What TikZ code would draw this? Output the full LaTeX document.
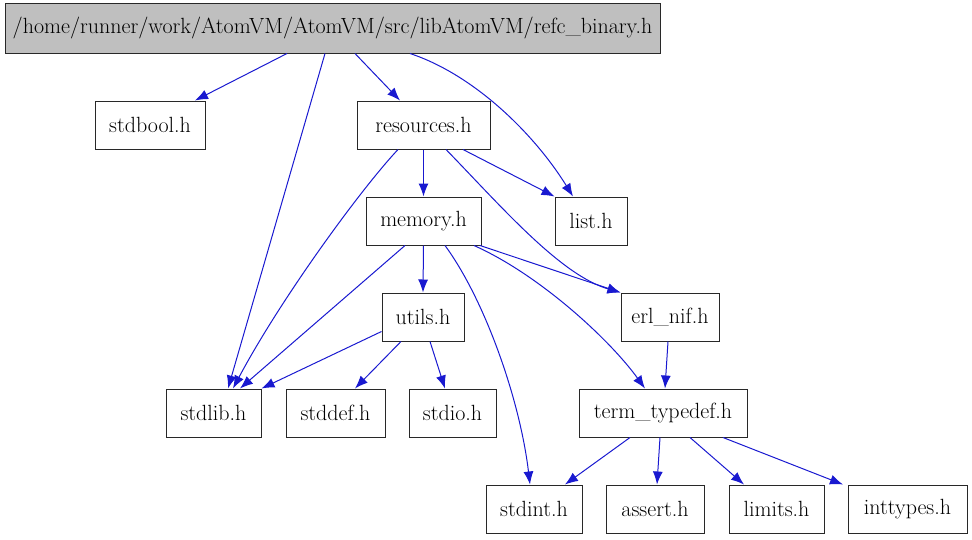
\documentclass[tikz,border=0pt]{standalone}
\usetikzlibrary{arrows.meta}
\definecolor{edgeblue}{RGB}{25,25,208}
\definecolor{rootgray}{RGB}{191,191,191}
\definecolor{boxline}{RGB}{40,40,40}
\begin{document}
\begin{tikzpicture}[x=1pt,y=-1pt,
  box/.style={draw=boxline, line width=1pt, fill=white, inner sep=0pt, minimum height=48pt, font=\fontsize{22}{26}\selectfont},
  dep/.style={draw=edgeblue, line width=1pt, -{Latex[length=13pt,width=10pt]}}]
\useasboundingbox (0,0) rectangle (972,539);
\node[box, fill=rootgray, minimum width=655pt, minimum height=50pt] (root) at (332.5,28) {/home/runner/work/AtomVM/AtomVM/src/libAtomVM/refc\_binary.h};
\node[box, minimum width=110pt] (stdbool) at (150,125) {stdbool.h};
\node[box, minimum width=133pt] (resources) at (423.5,125) {resources.h};
\node[box, minimum width=72pt] (list) at (591,221) {list.h};
\node[box, minimum width=115pt] (memory) at (423.5,221) {memory.h};
\node[box, minimum width=98pt] (erlnif) at (670,317) {erl\_nif.h};
\node[box, minimum width=82pt] (utils) at (423,317) {utils.h};
\node[box, minimum width=95pt] (stdlib) at (213.5,413) {stdlib.h};
\node[box, minimum width=99pt] (stddef) at (335.5,413) {stddef.h};
\node[box, minimum width=87pt] (stdio) at (452.5,413) {stdio.h};
\node[box, minimum width=168pt] (termtd) at (663,413) {term\_typedef.h};
\node[box, minimum width=96pt] (stdint) at (534,509) {stdint.h};
\node[box, minimum width=98pt] (assert) at (655,509) {assert.h};
\node[box, minimum width=95pt] (limits) at (776.5,509) {limits.h};
\node[box, minimum width=119pt] (inttypes) at (907.5,509) {inttypes.h};
% root
\draw[dep] (root.south -| 287,0) -- (stdbool.north -| 195,0);
\draw[dep] (root.south -| 325,0) -- (stdlib.north -| 228,0);
\draw[dep] (root.south -| 355,0) -- (resources.north -| 400,0);
\draw[dep] (root.south -| 410,0) .. controls (475,75) and (535,135) .. (list.north -| 573,0);
% resources
\draw[dep] (resources.south -| 398,0) .. controls (360,190) and (280,300) .. (stdlib.north -| 233,0);
\draw[dep] (resources.south) -- (memory.north);
\draw[dep] (resources.south -| 463,0) -- (list.north west);
\draw[dep] (resources.south -| 446,0) .. controls (500,205) and (560,275) .. (erlnif.north west);
% memory
\draw[dep] (memory.south -| 405,0) -- (stdlib.north -| 240,0);
\draw[dep] (memory.south) -- (utils.north);
\draw[dep] (memory.south -| 445,0) .. controls (485,300) and (520,400) .. (stdint.north -| 530,0);
\draw[dep] (memory.south -| 480,0) -- (erlnif.north west);
\draw[dep] (memory.south -| 474,0) .. controls (540,275) and (610,340) .. (termtd.north -| 645,0);
% utils
\draw[dep] (utils.south west) ++(0,-10) -- (stdlib.north east);
\draw[dep] (utils.south -| 401,0) -- (stddef.north -| 355,0);
\draw[dep] (utils.south -| 430,0) -- (stdio.north -| 445,0);
% erl_nif
\draw[dep] (erlnif.south -| 668,0) -- (termtd.north -| 665,0);
% term_typedef
\draw[dep] (termtd.south -| 630,0) -- (stdint.north -| 565,0);
\draw[dep] (termtd.south -| 660,0) -- (assert.north -| 657,0);
\draw[dep] (termtd.south -| 690,0) -- (limits.north -| 744,0);
\draw[dep] (termtd.south -| 723,0) -- (inttypes.north -| 843,0);
\end{tikzpicture}
\end{document}
